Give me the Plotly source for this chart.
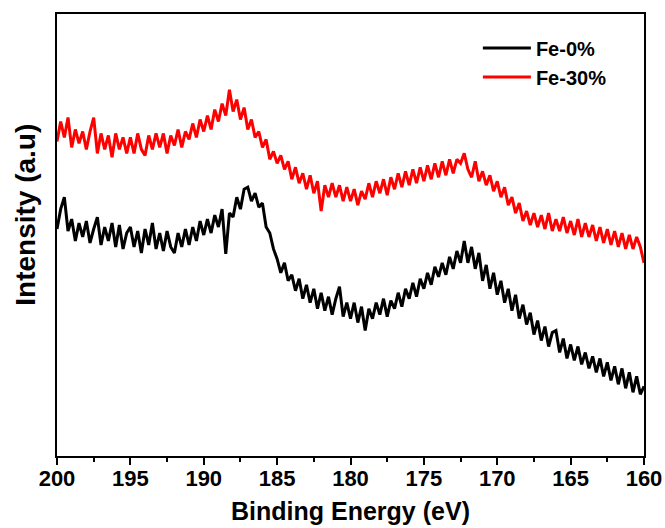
import numpy as np
import plotly.graph_objects as go

# Binding energy grid (eV), 200 -> 160 in 0.25 eV steps
energy = np.round(np.arange(200.0, 159.99, -0.25), 2)

# Fe-0% intensity (a.u.), groups of four per eV
fe0 = [
    230, 250, 262, 228,  # 200
    240, 218, 236, 222,  # 199
    238, 216, 230, 242,  # 198
    214, 232, 218, 236,  # 197
    212, 234, 210, 226,  # 196
    232, 212, 228, 206,  # 195
    230, 214, 236, 210,  # 194
    226, 208, 228, 212,  # 193
    206, 226, 212, 230,  # 192
    214, 232, 218, 238,  # 191
    224, 240, 226, 244,  # 190
    232, 250, 205, 246,  # 189
    242, 262, 250, 270,  # 188
    272, 258, 266, 252,  # 187
    256, 232, 226, 210,  # 186
    200, 186, 196, 178,  # 185
    184, 168, 180, 160,  # 184
    174, 156, 170, 150,  # 183
    166, 148, 162, 144,  # 182
    160, 172, 142, 156,  # 181
    140, 156, 136, 152,  # 180
    128, 150, 140, 156,  # 179
    144, 160, 142, 158,  # 178
    150, 166, 152, 170,  # 177
    160, 176, 162, 180,  # 176
    170, 186, 174, 192,  # 175
    182, 196, 184, 202,  # 174
    190, 208, 196, 218,  # 173
    196, 212, 190, 206,  # 172
    178, 194, 170, 186,  # 171
    164, 178, 156, 170,  # 170
    148, 164, 140, 154,  # 169
    134, 146, 124, 138,  # 168
    118, 132, 112, 126,  # 167
    128, 106, 120, 100,  # 166
    114, 98, 112, 94,    # 165
    106, 90, 102, 86,    # 164
    100, 82, 96, 78,     # 163
    92, 74, 90, 70,      # 162
    86, 66, 82, 64,      # 161
    72,                  # 160
]

# Fe-30% intensity (a.u.)
fe30 = [
    318, 338, 322, 342,  # 200
    312, 330, 316, 328,  # 199
    310, 328, 342, 306,  # 198
    326, 310, 324, 302,  # 197
    326, 310, 322, 306,  # 196
    322, 306, 326, 310,  # 195
    304, 324, 310, 326,  # 194
    312, 326, 306, 324,  # 193
    314, 330, 312, 328,  # 192
    320, 336, 322, 340,  # 191
    328, 344, 330, 350,  # 190
    338, 356, 344, 370,  # 189
    348, 360, 340, 352,  # 188
    330, 340, 322, 328,  # 187
    312, 320, 300, 308,  # 186
    296, 304, 290, 298,  # 185
    280, 292, 276, 286,  # 184
    270, 284, 266, 278,  # 183
    248, 274, 262, 276,  # 182
    262, 274, 258, 272,  # 181
    258, 270, 254, 268,  # 180
    260, 276, 262, 278,  # 179
    266, 280, 264, 282,  # 178
    270, 286, 272, 288,  # 177
    274, 290, 276, 292,  # 176
    278, 294, 280, 296,  # 175
    282, 298, 284, 300,  # 174
    286, 300, 296, 306,  # 173
    290, 282, 298, 278,  # 172
    288, 274, 284, 268,  # 171
    278, 262, 272, 254,  # 170
    262, 246, 256, 238,  # 169
    248, 234, 246, 232,  # 168
    244, 230, 246, 228,  # 167
    240, 228, 242, 226,  # 166
    238, 224, 240, 222,  # 165
    236, 222, 234, 218,  # 164
    232, 216, 230, 214,  # 163
    228, 212, 226, 210,  # 162
    224, 210, 222, 212,  # 161
    196,                 # 160
]

series_names = ["Fe-0%", "Fe-30%"]
series_colors = ["#000000", "#ff0000"]
x_ticks = [200, 195, 190, 185, 180, 175, 170, 165, 160]

assert len(fe0) == len(energy) == len(fe30)

FONT = "Liberation Sans, Arial, sans-serif"

fig = go.Figure()
for name, vals, col in zip(series_names, [fe0, fe30], series_colors):
    fig.add_trace(go.Scatter(x=energy, y=vals, mode="lines", name="<b>" + name + "</b>",
                             line=dict(color=col, width=3)))

fig.update_layout(
    width=665, height=528,
    margin=dict(l=57, r=21, t=14, b=72),
    paper_bgcolor="white", plot_bgcolor="white",
    font=dict(family=FONT, color="black"),
    showlegend=True,
    legend=dict(x=0.717, y=0.967, xanchor="left", yanchor="top",
                bgcolor="rgba(0,0,0,0)", borderwidth=0,
                font=dict(family=FONT, size=20, color="black"),
                itemwidth=48, tracegroupgap=0),
    xaxis=dict(
        range=[200, 160], tickvals=x_ticks, ticktext=["<b>%d</b>" % t for t in x_ticks],
        automargin=False,
        showgrid=False, zeroline=False,
        showline=True, linecolor="black", linewidth=2, mirror=True,
        ticks="outside", ticklen=7, tickwidth=2, tickcolor="black",
        ticklabelstandoff=-5,
        minor=dict(ticks="outside", ticklen=4, tickwidth=2, tickcolor="black", dtick=2.5),
        tickfont=dict(family=FONT, size=22, color="black"),
        title=dict(text="<b>Binding Energy (eV)</b>", standoff=12,
                   font=dict(family=FONT, size=25, color="black")),
    ),
    yaxis=dict(
        range=[2, 446], showticklabels=False, ticks="",
        automargin=False,
        showgrid=False, zeroline=False,
        showline=True, linecolor="black", linewidth=2, mirror=True,
    ),
    annotations=[dict(
        text="<b>Intensity (a.u)</b>", textangle=-90,
        xref="paper", yref="paper", x=-0.055, y=0.5 + 20 / 442,
        xanchor="center", yanchor="middle", showarrow=False,
        font=dict(family=FONT, size=28, color="black"),
    )],
)

fig.write_html("out.html")
